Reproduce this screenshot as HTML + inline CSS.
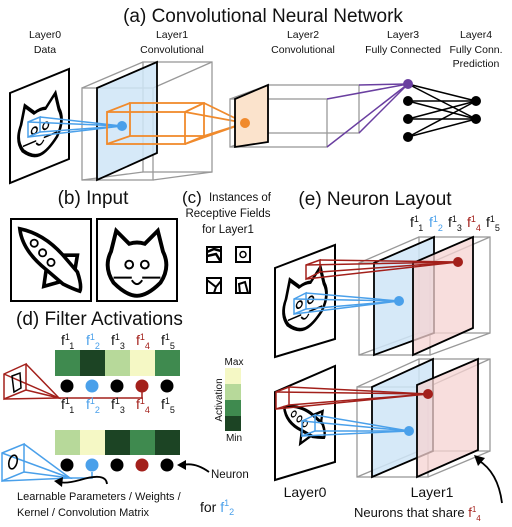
<!DOCTYPE html>
<html><head><meta charset="utf-8"><style>
html,body{margin:0;padding:0;background:#fff}
svg{display:block}
text{font-family:"Liberation Sans",sans-serif;fill:#111}
</style></head><body>
<svg width="512" height="527" viewBox="0 0 512 527" xmlns="http://www.w3.org/2000/svg">
<defs>
<g id="cat">
<path d="M-20,-8 L-16,-24 L-6,-14 Q0,-16 6,-14 L16,-24 L20,-8 Q26,4 18,16 Q8,26 0,26 Q-8,26 -18,16 Q-26,4 -20,-8 Z" fill="none" stroke="#000" stroke-width="3"/>
<circle cx="-6" cy="2" r="3" fill="none" stroke="#000" stroke-width="1.5"/>
<circle cx="6" cy="2" r="3" fill="none" stroke="#000" stroke-width="1.5"/>
<path d="M-18,12 L-4,12 M4,12 L18,12 M-4,14 Q0,20 4,14" fill="none" stroke="#000" stroke-width="1.5"/>
</g>
<g id="rocket">
<path d="M-26,-26 Q-6,-22 10,-4 L22,10 Q26,22 24,26 Q18,24 10,20 L-4,8 Q-24,-8 -26,-26 Z" fill="none" stroke="#000" stroke-width="3"/>
<path d="M10,-4 L22,-4 L20,8 M-4,8 L-6,22 L8,18" fill="none" stroke="#000" stroke-width="3"/>
<circle cx="-14" cy="-14" r="3" fill="none" stroke="#000" stroke-width="1.5"/>
<circle cx="-7" cy="-6" r="3" fill="none" stroke="#000" stroke-width="1.5"/>
<circle cx="0" cy="2" r="3" fill="none" stroke="#000" stroke-width="1.5"/>
</g>
</defs>

<!-- (a) -->
<text x="263" y="22" font-size="19" text-anchor="middle">(a) Convolutional Neural Network</text>
<g font-size="10.5" text-anchor="middle">
<text x="45" y="38">Layer0</text><text x="45" y="53">Data</text>
<text x="172" y="38">Layer1</text><text x="172" y="53">Convolutional</text>
<text x="303" y="38">Layer2</text><text x="303" y="53">Convolutional</text>
<text x="403" y="38">Layer3</text><text x="403" y="53">Fully Connected</text>
<text x="476" y="38">Layer4</text><text x="476" y="53">Fully Conn.</text><text x="476" y="67">Prediction</text>
</g>
<polygon points="10,93 69,69 69,159 10,183" fill="#fff" stroke="#000" stroke-width="2"/>
<g transform="translate(40,126) scale(0.95,1.1) skewY(-20)"><use href="#cat"/></g>
<g fill="none" stroke="#999" stroke-width="1.3">
<rect x="82" y="88" width="71" height="92"/>
<rect x="143" y="62" width="69" height="110"/>
<line x1="82" y1="88" x2="143" y2="62"/><line x1="153" y1="88" x2="212" y2="62"/>
<line x1="82" y1="180" x2="143" y2="172"/><line x1="153" y1="180" x2="212" y2="172"/>
</g>
<polygon points="97,88 157,62 157,153 97,180" fill="#cfe5f7" fill-opacity="0.85" stroke="#000" stroke-width="1.8"/>
<g fill="none" stroke="#4aa0ea" stroke-width="1.5">
<polygon points="28,122 40,117 40,132 28,137"/>
<polyline points="28,122 122,126 28,137"/><polyline points="40,117 122,126 40,132"/>
</g>
<circle cx="122" cy="126" r="5" fill="#4aa0ea"/>
<g fill="none" stroke="#f08a2c" stroke-width="1.8">
<rect x="107" y="112" width="78" height="32"/>
<rect x="130" y="103" width="74" height="33"/>
<line x1="107" y1="112" x2="130" y2="103"/><line x1="185" y1="112" x2="204" y2="103"/>
<line x1="107" y1="144" x2="130" y2="136"/><line x1="185" y1="144" x2="204" y2="136"/>
<line x1="185" y1="112" x2="245" y2="123"/><line x1="204" y1="103" x2="245" y2="123"/>
<line x1="185" y1="144" x2="245" y2="123"/><line x1="204" y1="136" x2="245" y2="123"/>
</g>
<g fill="none" stroke="#999" stroke-width="1.3">
<rect x="230" y="99" width="97" height="48"/>
<rect x="268" y="85" width="91" height="48"/>
<line x1="230" y1="99" x2="268" y2="85"/><line x1="230" y1="147" x2="268" y2="133"/>
</g>
<polygon points="235,99 268,85 268,142 235,147" fill="#fbe3cc" stroke="#000" stroke-width="1.8"/>
<circle cx="245" cy="123" r="5" fill="#f08a2c"/>
<g stroke="#6a3fa0" stroke-width="1.5">
<line x1="327" y1="99" x2="408" y2="84"/><line x1="359" y1="85" x2="408" y2="84"/>
<line x1="359" y1="133" x2="408" y2="84"/><line x1="327" y1="147" x2="408" y2="84"/>
</g>
<g stroke="#000" stroke-width="1.5">
<line x1="408" y1="84" x2="476" y2="101"/><line x1="408" y1="84" x2="476" y2="119"/>
<line x1="408" y1="101" x2="476" y2="101"/><line x1="408" y1="101" x2="476" y2="119"/>
<line x1="408" y1="119" x2="476" y2="101"/><line x1="408" y1="119" x2="476" y2="119"/>
<line x1="408" y1="137" x2="476" y2="101"/><line x1="408" y1="137" x2="476" y2="119"/>
</g>
<circle cx="408" cy="84" r="5" fill="#6a3fa0"/>
<circle cx="408" cy="101" r="5"/><circle cx="408" cy="119" r="5"/><circle cx="408" cy="137" r="5"/>
<circle cx="476" cy="101" r="5"/><circle cx="476" cy="119" r="5"/>

<!-- (b) -->
<text x="93" y="204" font-size="19" text-anchor="middle">(b) Input</text>
<rect x="11" y="219" width="80" height="82" fill="none" stroke="#000" stroke-width="2"/>
<rect x="97" y="219" width="80" height="82" fill="none" stroke="#000" stroke-width="2"/>
<g transform="translate(51,260) scale(1.2)"><use href="#rocket"/></g>
<g transform="translate(137,262) scale(1.3)"><use href="#cat"/></g>

<!-- (c) -->
<text x="182" y="203" font-size="17">(c)</text>
<g font-size="11.5" text-anchor="middle">
<text x="240" y="201">Instances of</text>
<text x="228" y="217">Receptive Fields</text>
<text x="228" y="233">for Layer1</text>
</g>
<g fill="none" stroke="#000" stroke-width="2">
<rect x="207" y="247" width="14" height="15"/><rect x="236" y="247" width="14" height="15"/>
<rect x="207" y="278" width="14" height="15"/><rect x="236" y="278" width="14" height="15"/>
<path d="M207,252 L214,249 L221,251 M207,256 L216,254 L221,262" stroke-width="2.5"/>
<circle cx="243" cy="254.5" r="3" stroke-width="1.5"/>
<path d="M207,280 L216,287 L214,293 M216,287 L221,281"/>
<path d="M240,293 L239,284 L245,282 L248,293"/>
</g>

<!-- (e) -->
<text x="375" y="205" font-size="19" text-anchor="middle">(e) Neuron Layout</text>
<g font-size="14">
<text x="410" y="227">f<tspan font-size="9" dy="-5">1</tspan><tspan font-size="9" dy="9">1</tspan></text>
<text x="429" y="227" style="fill:#4aa0ea">f<tspan font-size="9" dy="-5" style="fill:#4aa0ea">1</tspan><tspan font-size="9" dy="9" style="fill:#4aa0ea">2</tspan></text>
<text x="448" y="227">f<tspan font-size="9" dy="-5">1</tspan><tspan font-size="9" dy="9">3</tspan></text>
<text x="467" y="227" style="fill:#a3201b">f<tspan font-size="9" dy="-5" style="fill:#a3201b">1</tspan><tspan font-size="9" dy="9" style="fill:#a3201b">4</tspan></text>
<text x="486" y="227">f<tspan font-size="9" dy="-5">1</tspan><tspan font-size="9" dy="9">5</tspan></text>
</g>
<polygon points="275,268 335,245 335,339 275,357" fill="#fff" stroke="#000" stroke-width="2"/>
<g transform="translate(305,300) scale(0.95,1.1) skewY(-20)"><use href="#cat"/></g>
<g fill="none" stroke="#999" stroke-width="1.3">
<rect x="359" y="263" width="71" height="92"/>
<rect x="419" y="237" width="71" height="96"/>
<line x1="359" y1="263" x2="419" y2="237"/><line x1="430" y1="263" x2="490" y2="237"/>
<line x1="359" y1="355" x2="419" y2="333"/><line x1="430" y1="355" x2="490" y2="333"/>
</g>
<polygon points="374,263 434,237 434,333 374,355" fill="#cfe5f7" fill-opacity="0.85" stroke="#000" stroke-width="1.8"/>
<polygon points="413,263 473,237 473,328 413,355" fill="#f6d3d1" fill-opacity="0.75" stroke="#000" stroke-width="1.8"/>
<g fill="none" stroke="#a3201b" stroke-width="1.5">
<polygon points="306,265 320,260 320,272 306,279"/>
<polyline points="306,265 458,262 306,279"/><polyline points="320,260 458,262 320,272"/>
</g>
<circle cx="458" cy="262" r="5" fill="#a3201b"/>
<g fill="none" stroke="#4aa0ea" stroke-width="1.5">
<polygon points="294,299 306,293 306,309 294,314"/>
<polyline points="294,299 399,301 294,314"/><polyline points="306,293 399,301 306,309"/>
</g>
<circle cx="399" cy="301" r="5" fill="#4aa0ea"/>
<polygon points="275,392 335,366 335,462 275,480" fill="#fff" stroke="#000" stroke-width="2"/>
<g transform="translate(305,422) scale(0.8,0.9) skewY(-20)"><use href="#rocket"/></g>
<g fill="none" stroke="#999" stroke-width="1.3">
<rect x="357" y="387" width="71" height="90"/>
<rect x="419" y="359" width="71" height="92"/>
<line x1="357" y1="387" x2="419" y2="359"/><line x1="428" y1="387" x2="490" y2="359"/>
<line x1="357" y1="477" x2="419" y2="451"/><line x1="428" y1="477" x2="490" y2="451"/>
</g>
<polygon points="372,387 433,359 433,451 372,477" fill="#cfe5f7" fill-opacity="0.85" stroke="#000" stroke-width="1.8"/>
<polygon points="417,385 478,359 478,450 417,477" fill="#f6d3d1" fill-opacity="0.75" stroke="#000" stroke-width="1.8"/>
<g fill="none" stroke="#a3201b" stroke-width="1.5">
<polygon points="276,392 289,387 289,405 276,409"/>
<polyline points="276,392 428,394 276,409"/><polyline points="289,387 428,394 289,405"/>
</g>
<circle cx="428" cy="394" r="5" fill="#a3201b"/>
<g fill="none" stroke="#4aa0ea" stroke-width="1.5">
<polygon points="302,421 315,415 315,431 302,436"/>
<polyline points="302,421 409,431 302,436"/><polyline points="315,415 409,431 315,431"/>
</g>
<circle cx="409" cy="431" r="5" fill="#4aa0ea"/>
<text x="305" y="497" font-size="14" text-anchor="middle">Layer0</text>
<text x="432" y="497" font-size="14" text-anchor="middle">Layer1</text>
<text x="354" y="517" font-size="13">Neurons that share <tspan style="fill:#a3201b">f<tspan font-size="8" dy="-5" style="fill:#a3201b">1</tspan><tspan font-size="8" dy="9" style="fill:#a3201b">4</tspan></tspan></text>
<path d="M502,503 Q498,472 478,460" fill="none" stroke="#000" stroke-width="1.8"/>
<polygon points="474,455 485,458 478,466" fill="#000"/>

<!-- (d) -->
<text x="16" y="325" font-size="19">(d) Filter Activations</text>
<g id="frow" font-size="14">
<text x="61" y="345">f<tspan font-size="9" dy="-5">1</tspan><tspan font-size="9" dy="9">1</tspan></text>
<text x="86" y="345" style="fill:#4aa0ea">f<tspan font-size="9" dy="-5" style="fill:#4aa0ea">1</tspan><tspan font-size="9" dy="9" style="fill:#4aa0ea">2</tspan></text>
<text x="111" y="345">f<tspan font-size="9" dy="-5">1</tspan><tspan font-size="9" dy="9">3</tspan></text>
<text x="136" y="345" style="fill:#a3201b">f<tspan font-size="9" dy="-5" style="fill:#a3201b">1</tspan><tspan font-size="9" dy="9" style="fill:#a3201b">4</tspan></text>
<text x="161" y="345">f<tspan font-size="9" dy="-5">1</tspan><tspan font-size="9" dy="9">5</tspan></text>
</g>
<rect x="55" y="350" width="25" height="26" fill="#3f8a4f"/>
<rect x="80" y="350" width="25" height="26" fill="#1c4424"/>
<rect x="105" y="350" width="25" height="26" fill="#b7d99a"/>
<rect x="130" y="350" width="25" height="26" fill="#f5f8c5"/>
<rect x="155" y="350" width="25" height="26" fill="#3f8a4f"/>
<circle cx="67" cy="386" r="6.5"/><circle cx="92" cy="386" r="6.5" fill="#4aa0ea"/><circle cx="117" cy="386" r="6.5"/><circle cx="142" cy="386" r="6.5" fill="#a3201b"/><circle cx="167" cy="386" r="6.5"/>
<g fill="none" stroke="#a3201b" stroke-width="1.5">
<polygon points="4,374 26,364 26,390 4,399"/>
<polyline points="4,374 59,398 4,399"/><polyline points="26,364 59,398 26,390"/>
<polyline points="59,398 142,398 142,392"/>
</g>
<path d="M12,376 L20,373 L21,388 L14,392 Z" fill="none" stroke="#000" stroke-width="1.5"/>
<g transform="translate(0,64)"><use href="#frow"/></g>
<rect x="55" y="430" width="25" height="25" fill="#b7d99a"/>
<rect x="80" y="430" width="25" height="25" fill="#f5f8c5"/>
<rect x="105" y="430" width="25" height="25" fill="#1c4424"/>
<rect x="130" y="430" width="25" height="25" fill="#3f8a4f"/>
<rect x="155" y="430" width="25" height="25" fill="#1c4424"/>
<circle cx="67" cy="465" r="6.5"/><circle cx="92" cy="465" r="6.5" fill="#4aa0ea"/><circle cx="117" cy="465" r="6.5"/><circle cx="142" cy="465" r="6.5" fill="#a3201b"/><circle cx="167" cy="465" r="6.5"/>
<g fill="none" stroke="#4aa0ea" stroke-width="1.5">
<polygon points="2,453 24,444 24,472 2,481"/>
<polyline points="2,453 70,478 2,481"/><polyline points="24,444 70,478 24,472"/>
<polyline points="70,478 92,478 92,472"/>
</g>
<ellipse cx="13" cy="462" rx="4" ry="7" transform="rotate(15 13 462)" fill="none" stroke="#000" stroke-width="1.6"/>
<rect x="225" y="368" width="16" height="16" fill="#f5f8c5"/>
<rect x="225" y="384" width="16" height="16" fill="#b7d99a"/>
<rect x="225" y="400" width="16" height="16" fill="#3f8a4f"/>
<rect x="225" y="416" width="16" height="15" fill="#1c4424"/>
<text x="234" y="365" font-size="10" text-anchor="middle">Max</text>
<text x="234" y="441" font-size="10" text-anchor="middle">Min</text>
<text x="0" y="0" font-size="10" text-anchor="middle" transform="translate(222,400) rotate(-90)">Activation</text>
<text x="211" y="478" font-size="11.5">Neuron</text>
<path d="M209,472 Q195,462 183,465" fill="none" stroke="#000" stroke-width="1.8"/>
<polygon points="177,465 186,460 186,470" fill="#000"/>
<path d="M107,484 Q106,472 80,480 Q65,484 60,482" fill="none" stroke="#000" stroke-width="1.8"/>
<polygon points="54,481 63,477 62,487" fill="#000"/>
<text x="17" y="500" font-size="11">Learnable Parameters / Weights /</text>
<text x="17" y="516" font-size="11">Kernel / Convolution Matrix</text>
<text x="200" y="512" font-size="14">for <tspan style="fill:#4aa0ea">f<tspan font-size="9" dy="-6" style="fill:#4aa0ea">1</tspan><tspan font-size="9" dy="9" style="fill:#4aa0ea">2</tspan></tspan></text>
</svg>
</body></html>
